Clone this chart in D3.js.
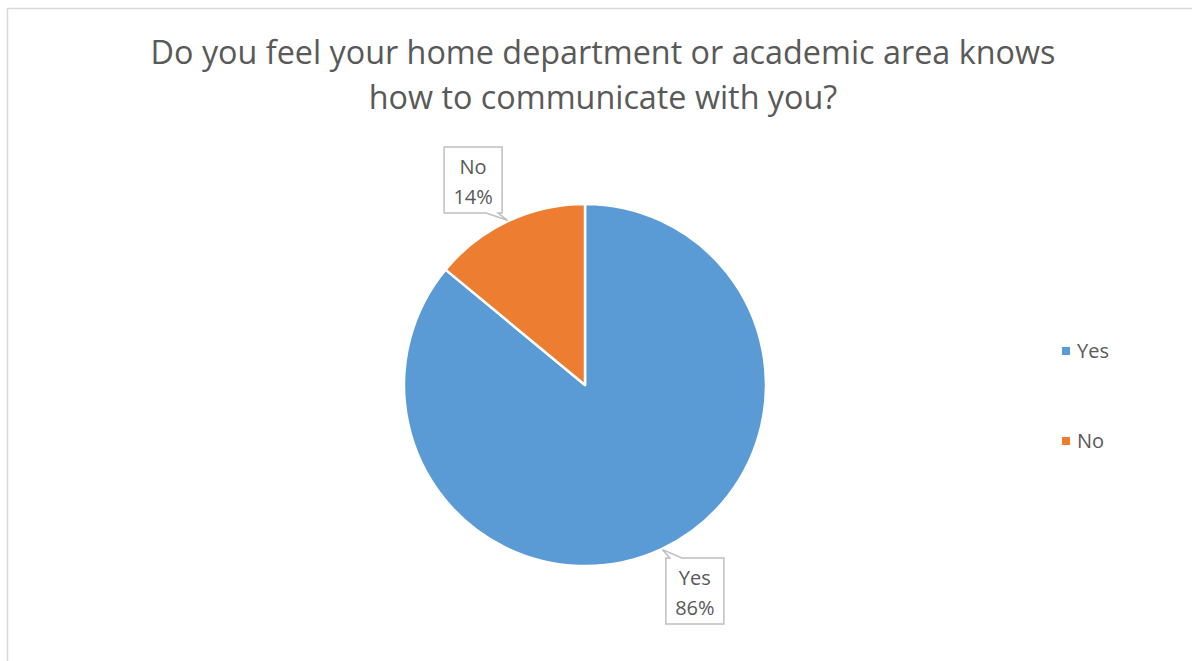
<!DOCTYPE html>
<html>
<head>
<meta charset="utf-8">
<script src="https://cdn.jsdelivr.net/npm/d3@7"></script>
<style>
  html, body { margin: 0; padding: 0; background: #fff; }
  svg { display: block; }
  text { font-family: "Open Sans", "Liberation Sans", sans-serif; fill: #595959; }
</style>
</head>
<body>
<svg id="chart" width="1192" height="661"></svg>
<script>
// Survey answers and their shares (percent)
const categories = ["Yes", "No"];
const shares = [86, 14];
const colors = ["#5B9BD5", "#ED7D31"];
const titleLines = [
  "Do you feel your home department or academic area knows",
  "how to communicate with you?"
];

const W = 1192, H = 661;
const svg = d3.select("#chart");

// chart area frame (only top and left edges visible within the window)
svg.append("rect")
  .attr("x", 7.5).attr("y", 8.5)
  .attr("width", W + 20).attr("height", H + 20)
  .attr("fill", "#fff").attr("stroke", "#d9d9d9").attr("stroke-width", 1.5);

// title
const title = svg.append("text").attr("text-anchor", "middle").style("font-size", "28px");
title.selectAll("tspan").data(titleLines).join("tspan")
  .attr("x", 603).attr("y", (d, i) => 64 + i * 45)
  .text(d => d);
// fit the first line to its intended width
const firstLen = title.select("tspan").node().getComputedTextLength();
const fitted = 28 * 905 / firstLen;
title.style("font-size", fitted + "px");

// pie
const cx = 585, cy = 385, r = 181;
const data = categories.map((c, i) => ({ cat: c, value: shares[i], color: colors[i] }));
const pie = d3.pie().value(d => d.value).sort(null);
const arcs = pie(data);
const arc = d3.arc().innerRadius(0).outerRadius(r);

const g = svg.append("g").attr("transform", `translate(${cx},${cy})`);
g.selectAll("path").data(arcs).join("path")
  .attr("d", arc)
  .attr("fill", d => d.data.color)
  .attr("stroke", "#fff")
  .attr("stroke-width", 2.5)
  .attr("stroke-linejoin", "round");

// data label callouts
const boxW = 58, boxH = 66, labelR = r * 1.29;
arcs.forEach(a => {
  const mid = (a.startAngle + a.endAngle) / 2;
  const ang = mid + (Math.sin(mid) < 0 ? -0.06 : -0.05);
  const bx = cx + labelR * Math.sin(ang);
  const by = cy - labelR * Math.cos(ang);
  const tipX = cx + (r + 1) * Math.sin(mid);
  const tipY = cy - (r + 1) * Math.cos(mid);
  const x0 = bx - boxW / 2, x1 = bx + boxW / 2, y0 = by - boxH / 2, y1 = by + boxH / 2;
  let p;
  if (tipY > y1) {
    // tail on bottom edge
    const c = Math.max(x0 + 10, Math.min(x1 - 10, tipX));
    p = `M${x0},${y0}H${x1}V${y1}H${c + 6}L${tipX},${tipY}L${c - 6},${y1}H${x0}Z`;
  } else {
    // tail on top edge
    const c = Math.max(x0 + 10, Math.min(x1 - 10, tipX));
    p = `M${x0},${y0}H${c - 6}L${tipX},${tipY}L${c + 6},${y0}H${x1}V${y1}H${x0}Z`;
  }
  svg.append("path").attr("d", p)
    .attr("fill", "#fff").attr("stroke", "#bfbfbf").attr("stroke-width", 1.5);
  const t = svg.append("text").attr("text-anchor", "middle").style("font-size", "20px");
  t.append("tspan").attr("x", bx).attr("y", by - 6).text(a.data.cat);
  t.append("tspan").attr("x", bx).attr("y", by + 24).text(Math.round(a.data.value) + "%");
});

// legend
const legend = svg.append("g");
const lg = legend.selectAll("g").data(data).join("g")
  .attr("transform", (d, i) => `translate(1062,${347 + i * 90})`);
lg.append("rect").attr("width", 8).attr("height", 8).attr("fill", d => d.color);
lg.append("text").attr("x", 15).attr("y", 11).style("font-size", "20px").text(d => d.cat);
</script>
</body>
</html>
